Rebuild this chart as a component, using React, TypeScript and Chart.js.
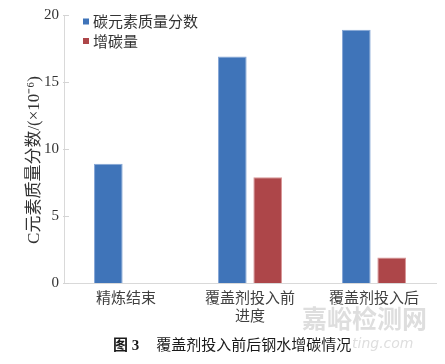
import React, { useEffect, useRef } from 'react';
import { Chart, registerables } from 'chart.js';

Chart.register(...registerables);

const categories = ['精炼结束', '覆盖剂投入前', '覆盖剂投入后'];
const seriesNames = ['碳元素质量分数', '增碳量'];
const carbonFraction = [8.9, 16.9, 18.9];
const carbonIncrease: (number | null)[] = [null, 7.9, 1.9];
const yTickValues = [0, 5, 10, 15, 20];
const yTitle = 'C元素质量分数/(×10⁻⁶)';
const xTitle = '进度';
const caption = '覆盖剂投入前后钢水增碳情况';

const BLUE = '#3f74b9';
const RED = '#ad4649';

export default function App() {
  const canvasRef = useRef<HTMLCanvasElement | null>(null);

  useEffect(() => {
    if (!canvasRef.current) return;
    const extras = {
      id: 'extras',
      afterDraw(chart: any) {
        const ctx = chart.ctx as CanvasRenderingContext2D;
        const area = chart.chartArea;
        const y = chart.scales.y;
        ctx.save();
        // inward tick marks
        ctx.strokeStyle = '#d4d4d4';
        ctx.lineWidth = 1;
        yTickValues.forEach((v) => {
          const py = Math.round(y.getPixelForValue(v)) + 0.5;
          ctx.beginPath();
          ctx.moveTo(area.left - 1, py);
          ctx.lineTo(area.left + 5, py);
          ctx.stroke();
        });
        // y title
        ctx.fillStyle = '#333333';
        ctx.font = '17px "Liberation Serif", "Noto Sans CJK SC"';
        ctx.textAlign = 'center';
        ctx.textBaseline = 'middle';
        ctx.translate(35, 160);
        ctx.rotate(-Math.PI / 2);
        ctx.fillText(yTitle, 0, 0);
        ctx.restore();
        // legend
        ctx.save();
        const colors = [BLUE, RED];
        ctx.font = '15px "Noto Sans CJK SC"';
        ctx.textAlign = 'left';
        ctx.textBaseline = 'middle';
        seriesNames.forEach((name, i) => {
          const cy = 21.5 + i * 19.5;
          ctx.fillStyle = colors[i];
          ctx.fillRect(83, cy - 3, 6, 6);
          ctx.fillStyle = '#333333';
          ctx.fillText(name, 93, cy);
        });
        ctx.restore();
      },
    };

    const chart = new Chart(canvasRef.current, {
      type: 'bar',
      data: {
        labels: categories,
        datasets: [
          {
            label: seriesNames[0],
            data: carbonFraction,
            backgroundColor: BLUE,
            borderColor: '#86a6d6',
            borderWidth: 1,
            categoryPercentage: 0.57,
            barPercentage: 0.81,
          },
          {
            label: seriesNames[1],
            data: carbonIncrease,
            backgroundColor: RED,
            borderColor: '#d99596',
            borderWidth: 1,
            categoryPercentage: 0.57,
            barPercentage: 0.81,
          },
        ],
      },
      options: {
        animation: false,
        responsive: false,
        maintainAspectRatio: false,
        layout: { padding: { top: 15, right: 9, left: 0, bottom: 0 } },
        plugins: {
          legend: { display: false },
          tooltip: { enabled: false },
          title: { display: false },
        },
        scales: {
          x: {
            grid: { display: false, drawTicks: false },
            border: { display: true, color: '#d9d9d9', width: 1 },
            ticks: {
              padding: 5,
              color: '#404040',
              font: { family: '"Noto Sans CJK SC"', size: 15 },
              maxRotation: 0,
            },
            title: {
              display: true,
              text: xTitle,
              color: '#404040',
              font: { family: '"Noto Sans CJK SC"', size: 15, lineHeight: 1.2 },
              padding: { top: 0, bottom: 6 },
            },
            afterFit: (scale: any) => {
              scale.height = 47;
            },
          },
          y: {
            min: 0,
            max: 20,
            grid: { display: false, drawTicks: false },
            border: { display: true, color: '#d9d9d9', width: 1 },
            ticks: {
              stepSize: 5,
              padding: 5,
              color: '#333333',
              font: { family: '"Liberation Serif"', size: 15 },
            },
            afterFit: (scale: any) => {
              scale.width = 64;
            },
          },
        },
      },
      plugins: [extras],
    });
    return () => chart.destroy();
  }, []);

  return (
    <div style={{ position: 'absolute', left: 0, top: 0, width: 445, height: 364, background: '#fff', overflow: 'hidden' }}>
      <canvas ref={canvasRef} width={445} height={330} style={{ position: 'absolute', left: 0, top: 0, width: 445, height: 330 }} />
      <div
        style={{
          position: 'absolute',
          left: 302,
          top: 300,
          fontFamily: '"Noto Sans CJK SC"',
          fontSize: 25,
          fontWeight: 700,
          color: '#dedede',
          lineHeight: '34px',
          whiteSpace: 'nowrap',
        }}
      >
        嘉峪检测网
      </div>
      <div
        style={{
          position: 'absolute',
          left: 352,
          top: 334,
          fontFamily: '"DejaVu Sans"',
          fontStyle: 'italic',
          fontSize: 14,
          color: '#dedede',
          lineHeight: '18px',
          whiteSpace: 'nowrap',
        }}
      >
        ting.com
      </div>
      <div
        style={{
          position: 'absolute',
          left: 113,
          top: 334,
          fontSize: 15,
          lineHeight: '20px',
          color: '#1a1a1a',
          whiteSpace: 'nowrap',
        }}
      >
        <span style={{ fontFamily: '"Liberation Serif", "Noto Sans CJK SC"', fontWeight: 700 }}>图 3</span>
        <span style={{ fontFamily: '"Noto Sans CJK SC"', marginLeft: 17 }}>{caption}</span>
      </div>
    </div>
  );
}
